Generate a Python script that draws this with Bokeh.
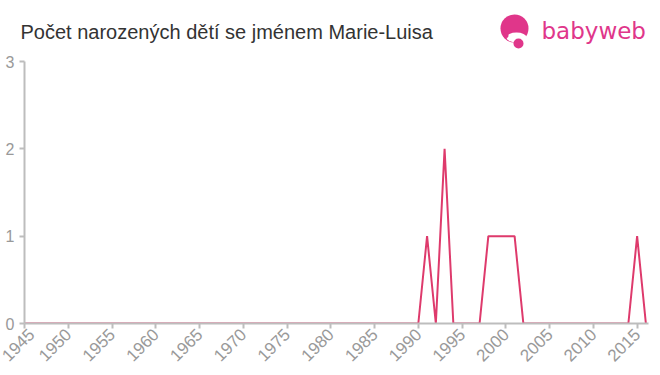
import math
from bokeh.plotting import figure
from bokeh.models import Range1d, FixedTicker
from bokeh.core.properties import value
from bokeh.embed import file_html
from bokeh.resources import INLINE

years = list(range(1945, 2017))
counts_nonzero = {1991: 1, 1993: 2, 1998: 1, 1999: 1, 2000: 1, 2001: 1, 2015: 1}
counts = [counts_nonzero.get(y, 0) for y in years]
x_ticks = list(range(1945, 2016, 5))
y_ticks = [0, 1, 2, 3]
title_text = "Počet narozených dětí se jménem Marie-Luisa"
logo_text = "babyweb"

LINE = "#de3a6c"
PINK = "#e0368a"
GRAY = "#bdbdbd"
LABEL = "#999999"
FONT = "Liberation Sans"

W = 660
HEAD_H = 51
LEFT = 24
RIGHT = 12

# ---- header (title + logo), drawn in pixel-like coordinates ----
h = figure(width=W, height=HEAD_H, output_backend="svg", toolbar_location=None,
           title=None, x_range=Range1d(0, W), y_range=Range1d(HEAD_H, 0),
           min_border=0, x_axis_type=None, y_axis_type=None)
h.outline_line_color = None
h.xgrid.visible = False
h.ygrid.visible = False
h.text(x=[20], y=[31], text=[title_text], text_font=value(FONT),
       text_font_size="20px", text_color="#333333", text_baseline="middle")
h.text(x=[541], y=[30], text=[logo_text], text_font=value("DejaVu Sans"),
       text_font_size="23px", text_color=PINK, text_baseline="middle")
h.circle(x=[514], y=[28], radius=14, fill_color=PINK, line_color=None)
h.ellipse(x=[516], y=[37], width=20, height=10, fill_color="white", line_color=None)
h.circle(x=[505.5], y=[35], radius=2.5, fill_color=PINK, line_color=None)
h.circle(x=[518], y=[43], radius=5, fill_color=PINK, line_color=None)

# ---- main chart ----
p = figure(width=W, height=375 - HEAD_H, output_backend="svg", toolbar_location=None,
           x_range=Range1d(1945, 2016.3), y_range=Range1d(0, 3),
           min_border_left=LEFT, min_border_right=RIGHT, min_border_top=10,
           min_border_bottom=52)
p.outline_line_color = None
p.xgrid.visible = False
p.ygrid.visible = False

p.line(years, counts, line_color=LINE, line_width=2)

for ax in (p.xaxis[0], p.yaxis[0]):
    ax.axis_line_color = GRAY
    ax.axis_line_width = 2
    ax.major_tick_line_color = GRAY
    ax.major_tick_line_width = 2
    ax.major_tick_in = 0
    ax.major_tick_out = 5
    ax.minor_tick_line_color = None
    ax.major_label_text_color = LABEL
    ax.major_label_text_font = FONT

p.xaxis.ticker = FixedTicker(ticks=x_ticks)
p.yaxis.ticker = FixedTicker(ticks=y_ticks)
p.xaxis.major_label_orientation = math.pi / 4
p.xaxis.major_label_text_font_size = "17px"
p.yaxis.major_label_text_font_size = "16px"
p.yaxis.major_label_standoff = 5
p.xaxis.major_label_standoff = 3

open("out.html", "w").write(file_html([h, p], INLINE))
